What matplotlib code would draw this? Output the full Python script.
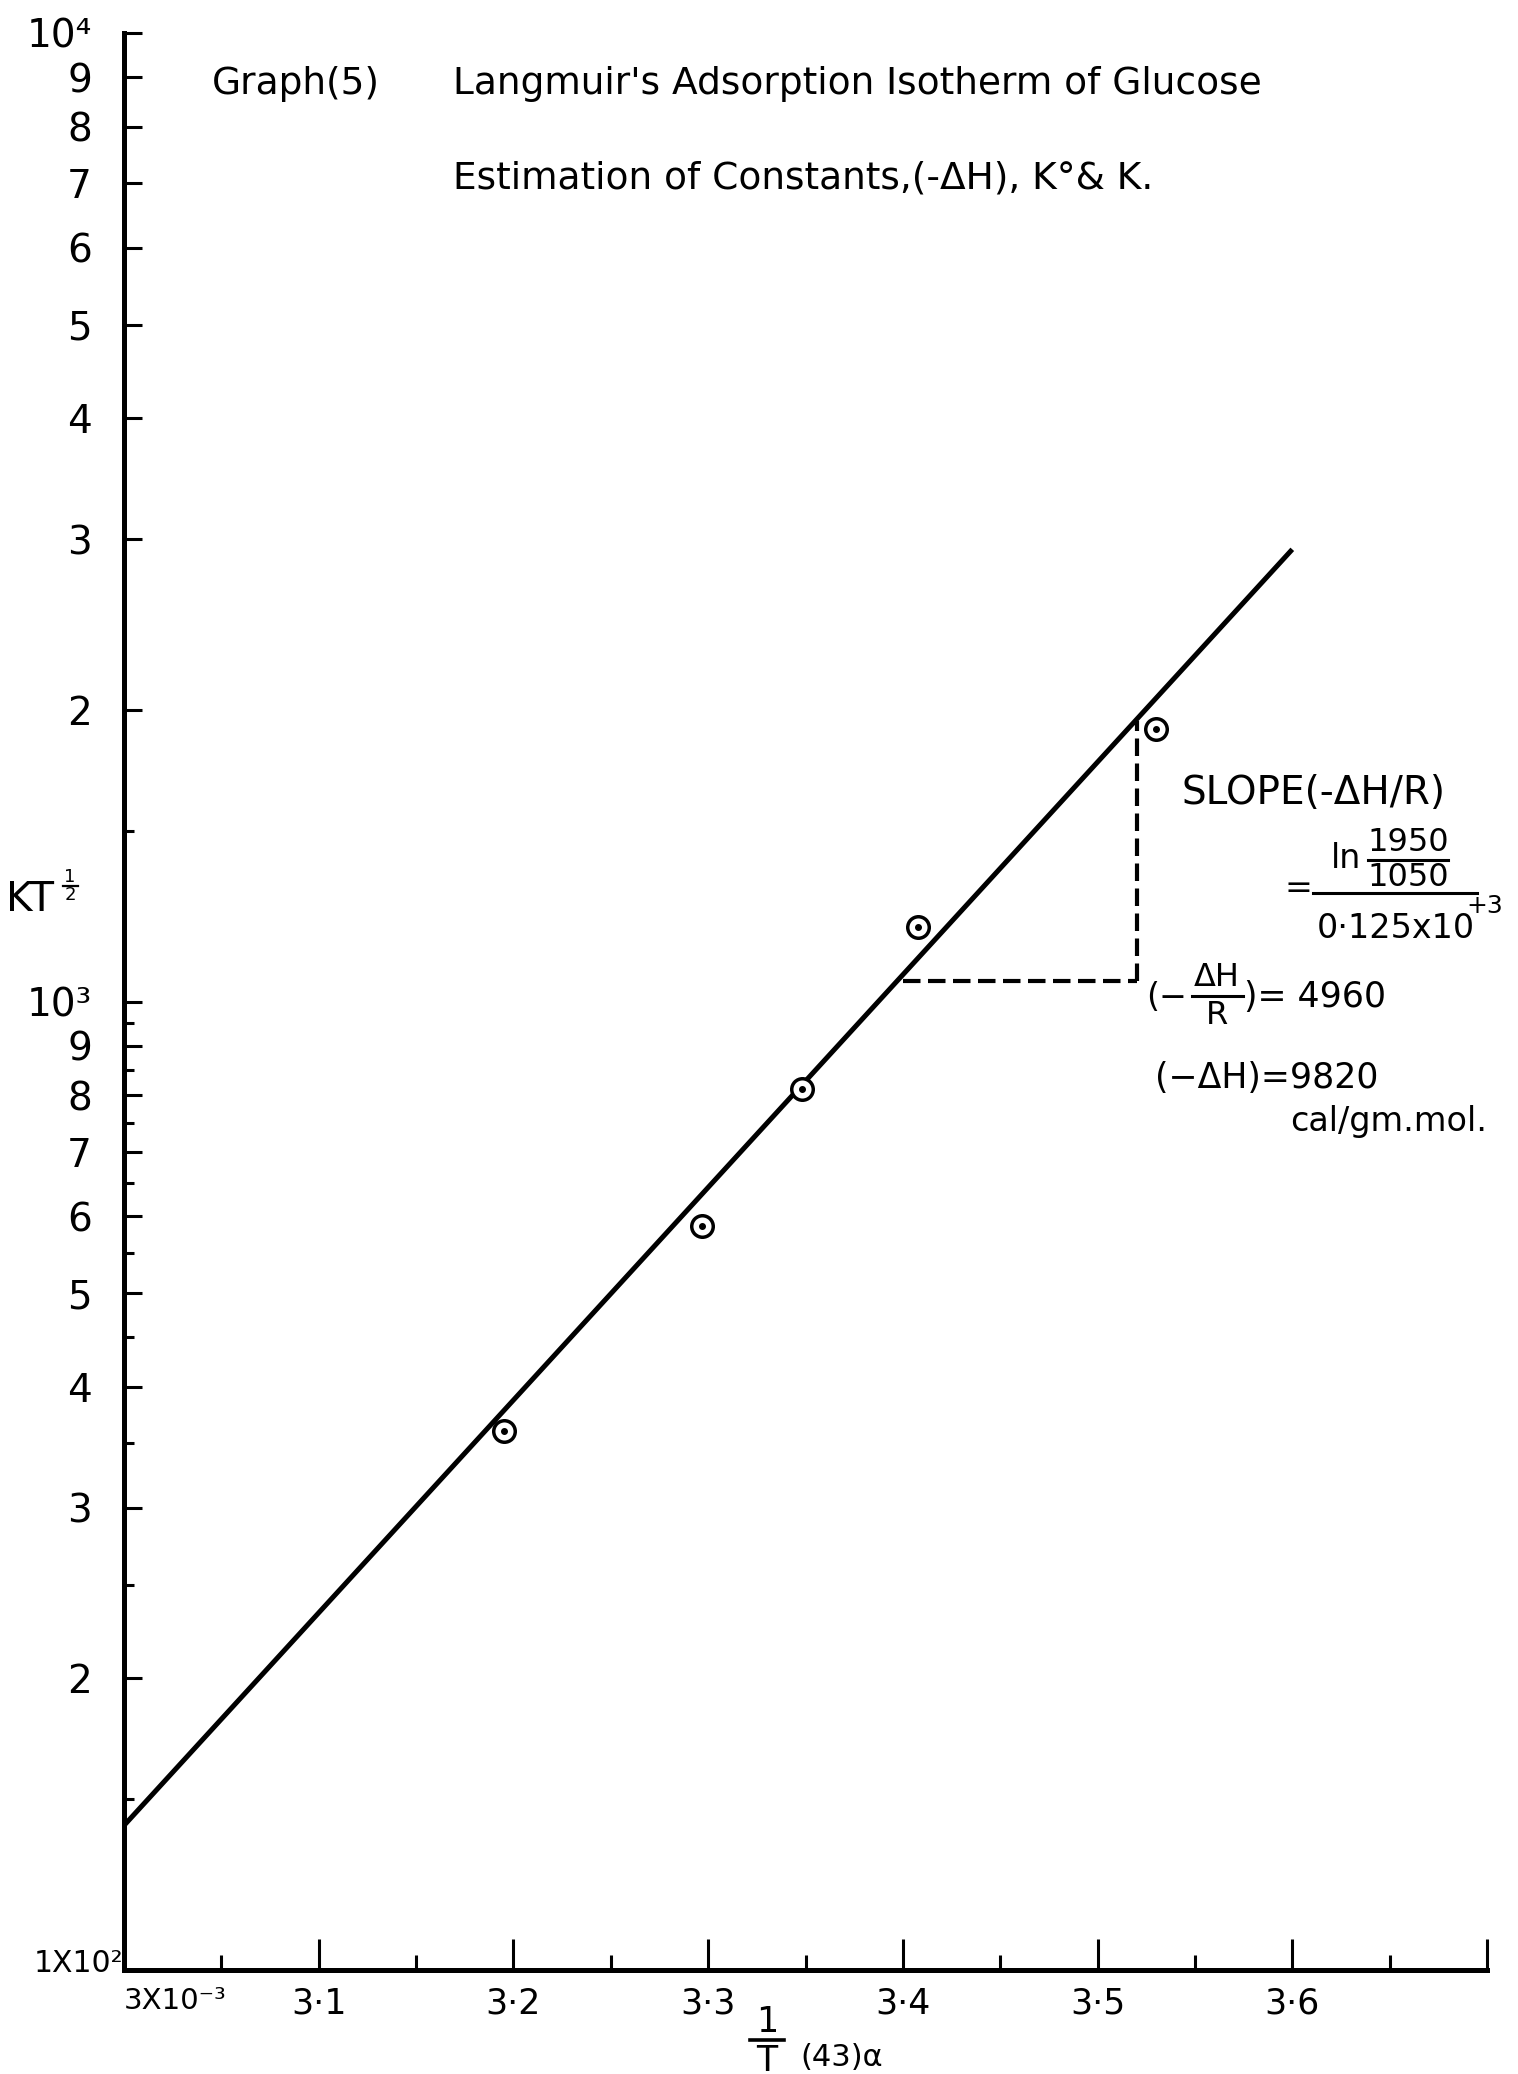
import matplotlib
matplotlib.use("Agg")
import matplotlib.pyplot as plt
from matplotlib.lines import Line2D

plt.rcParams['font.family'] = ['DejaVu Sans']

# ---------------- data ----------------
inv_T = [3.195, 3.297, 3.348, 3.408, 3.530]          # 1/T (x 10^-3)
kt_half = [360, 586, 812, 1194, 1911]                # K T^(1/2)

fit_x = [3.0, 3.6]
fit_y = [141, 2930]

slope_x = [3.40, 3.52]        # triangle used for slope
slope_y = [1050, 1950]

x_major = [3.0, 3.1, 3.2, 3.3, 3.4, 3.5, 3.6, 3.7]
x_major_labels = ['3X10\u207b\u00b3', '3\u00b71', '3\u00b72', '3\u00b73', '3\u00b74', '3\u00b75', '3\u00b76', '']
x_minor = [3.05, 3.15, 3.25, 3.35, 3.45, 3.55, 3.65]

y_major = [100, 200, 300, 400, 500, 600, 700, 800, 900,
           1000, 2000, 3000, 4000, 5000, 6000, 7000, 8000, 9000, 10000]
y_major_labels = ['', '2', '3', '4', '5', '6', '7', '8', '9',
                  '10\u00b3', '2', '3', '4', '5', '6', '7', '8', '9', '10\u2074']
y_bottom_label = '1X10\u00b2'
y_minor = [150, 250, 350, 450, 550, 650, 750, 850, 950, 1500]

# ---------------- figure ----------------
W, H = 1518, 2074
fig = plt.figure(figsize=(W / 100, H / 100), dpi=100)
fig.patch.set_facecolor('white')

def fx(x):
    return x / W

def fy(y):
    return 1 - y / H

ax_left, ax_right, ax_top, ax_bottom = 124, 1487, 33, 1970
ax = fig.add_axes([fx(ax_left), fy(ax_bottom), fx(ax_right - ax_left), (ax_bottom - ax_top) / H])
ax.set_facecolor('white')
ax.set_yscale('log')
ax.set_xlim(3.0, 3.7)
ax.set_ylim(100, 10000)

for s in ['top', 'right']:
    ax.spines[s].set_visible(False)
for s in ['left', 'bottom']:
    ax.spines[s].set_linewidth(3.6)
    ax.spines[s].set_color('black')

ax.set_xticks(x_major)
ax.set_xticklabels(x_major_labels)
ax.set_xticks(x_minor, minor=True)
ax.set_yticks(y_major)
ax.set_yticklabels(y_major_labels)
ax.set_yticks(y_minor, minor=True)
ax.yaxis.set_minor_formatter(matplotlib.ticker.NullFormatter())

ax.tick_params(axis='x', which='major', direction='in', length=22, width=2.2, pad=12,
               labelsize=25, color='black')
ax.tick_params(axis='x', which='minor', direction='in', length=11, width=2.2)
ax.tick_params(axis='y', which='major', direction='in', length=13, width=2.2, pad=23,
               labelsize=28, color='black')
ax.tick_params(axis='y', which='minor', direction='in', length=7, width=2.2)

xl = ax.get_xticklabels()
xl[0].set_horizontalalignment('left')
xl[0].set_fontsize(21)

# fitted line
ax.plot(fit_x, fit_y, color='black', lw=3.6, solid_capstyle='butt', zorder=3)

# slope triangle (dashed)
ax.plot([slope_x[0], slope_x[1]], [slope_y[0], slope_y[0]], color='black', lw=3,
        dashes=(4.2, 1.8), zorder=3)
ax.plot([slope_x[1], slope_x[1]], [slope_y[0], slope_y[1]], color='black', lw=3,
        dashes=(4.2, 1.8), zorder=3)

# data points: circle with central dot
ax.plot(inv_T, kt_half, linestyle='none', marker='o', markersize=15.5,
        markerfacecolor='white', markeredgecolor='black', markeredgewidth=2.5, zorder=4)
ax.plot(inv_T, kt_half, linestyle='none', marker='o', markersize=4,
        markerfacecolor='black', markeredgecolor='black', zorder=5)

# ---------------- texts ----------------
def t(x, y, s, size=24, ha='left', va='center'):
    fig.text(fx(x), fy(y), s, fontsize=size, ha=ha, va=va, color='black')

def bar(x0, x1, y, lw=2.2):
    fig.add_artist(Line2D([fx(x0), fx(x1)], [fy(y), fy(y)], transform=fig.transFigure,
                          color='black', lw=lw))

# bottom y label
t(34, 1964, y_bottom_label, size=21.5)

# titles
t(212, 84, 'Graph(5)', size=27)
t(453, 84, "Langmuir's Adsorption Isotherm of Glucose", size=27)
t(453, 178, 'Estimation of Constants,(-\u0394H), K\u00b0& K.', size=27)

# y label  KT^(1/2)
t(6, 900, 'KT', size=29)
t(70, 877, '1', size=13, ha='center')
bar(63, 78, 886, lw=1.6)
t(70, 895, '2', size=13, ha='center')

# x label (1/T) (43)α
t(767, 2022, '1', size=25, ha='center')
bar(750, 784, 2040, lw=2.6)
t(767, 2061, 'T', size=25, ha='center')
t(800, 2058, '(43)\u03b1', size=22)

# slope annotation
t(1182, 793, 'SLOPE(-\u0394H/R)', size=28)
t(1284, 889, '=', size=24)
t(1331, 858, 'ln', size=24)
t(1408, 842, '1950', size=23, ha='center')
bar(1368, 1448, 860)
t(1408, 878, '1050', size=23, ha='center')
bar(1313, 1477, 893)
t(1396, 929, '0\u00b7125x10', size=24, ha='center')
t(1466, 906, '+3', size=18)

# (-ΔH/R) = 4960
t(1146, 997, '(\u2212', size=24)
t(1217, 978, '\u0394H', size=23, ha='center')
bar(1192, 1243, 996)
t(1217, 1016, 'R', size=23, ha='center')
t(1244, 997, ')= 4960', size=25)

# (-ΔH) = 9820
t(1155, 1078, '(\u2212\u0394H)=9820', size=25)
t(1290, 1121, 'cal/gm.mol.', size=24)

fig.savefig('out.png', dpi=100, facecolor='white')
